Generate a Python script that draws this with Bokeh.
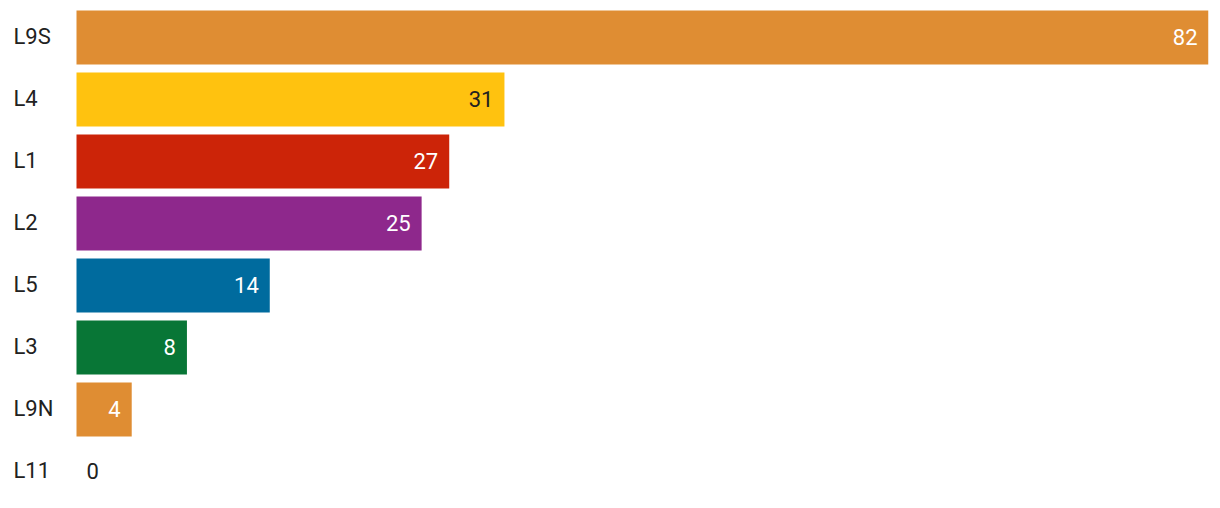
from bokeh.plotting import figure
from bokeh.models import ColumnDataSource, Range1d
from bokeh.core.properties import value
from bokeh.embed import file_html
from bokeh.resources import INLINE

categories = ["L9S", "L4", "L1", "L2", "L5", "L3", "L9N", "L11"]
values = [82, 31, 27, 25, 14, 8, 4, 0]
colors = ["#DF8D33", "#FFC20F", "#CC2408", "#8E288C", "#006B9E", "#087636", "#DF8D33", "#DF8D33"]

DARK = "#212121"
ypos = list(range(len(categories)))
label_colors = [DARK if c == "#FFC20F" else "#FFFFFF" for c in colors]

px_per_unit = 1132 / max(values)
frame_w = 1200
x_start = -68 / px_per_unit
x_end = x_start + frame_w / px_per_unit

row_px = 62
frame_h = 492
y_top = -29 / row_px
y_bottom = y_top + frame_h / row_px

src = ColumnDataSource(dict(cat=categories, val=[float(v) for v in values], y=ypos,
                            color=colors, lc=label_colors,
                            vtxt=[str(v) for v in values]))
inside = ColumnDataSource(dict(val=[v for v in values if v > 0],
                               y=[y for y, v in zip(ypos, values) if v > 0],
                               lc=[c for c, v in zip(label_colors, values) if v > 0],
                               vtxt=[str(v) for v in values if v > 0]))
outside = ColumnDataSource(dict(val=[v for v in values if v == 0],
                                y=[y for y, v in zip(ypos, values) if v == 0],
                                vtxt=[str(v) for v in values if v == 0]))

p = figure(width=1212, height=500, output_backend="svg", toolbar_location=None,
           x_range=Range1d(x_start, x_end), y_range=Range1d(y_bottom, y_top),
           min_border_left=8, min_border_right=4, min_border_top=8, min_border_bottom=0)
p.axis.visible = False
p.grid.visible = False
p.outline_line_color = None
p.background_fill_color = "white"
p.border_fill_color = "white"

p.hbar(y="y", left=0, right="val", height=54 / 62, fill_color="color", line_color=None, source=src)

font = value("Roboto")
p.text(x=0, y="y", text="cat", source=src, x_offset=-63, y_offset=-1, text_align="left",
       text_baseline="middle", text_font=font, text_font_size="22px", text_color=DARK)
p.text(x="val", y="y", text="vtxt", source=inside, x_offset=-11, y_offset=-1, text_align="right",
       text_baseline="middle", text_font=font, text_font_size="22px", text_color="lc")
p.text(x="val", y="y", text="vtxt", source=outside, x_offset=10, y_offset=-1, text_align="left",
       text_baseline="middle", text_font=font, text_font_size="22px", text_color=DARK)

open("out.html", "w").write(file_html(p, INLINE))
